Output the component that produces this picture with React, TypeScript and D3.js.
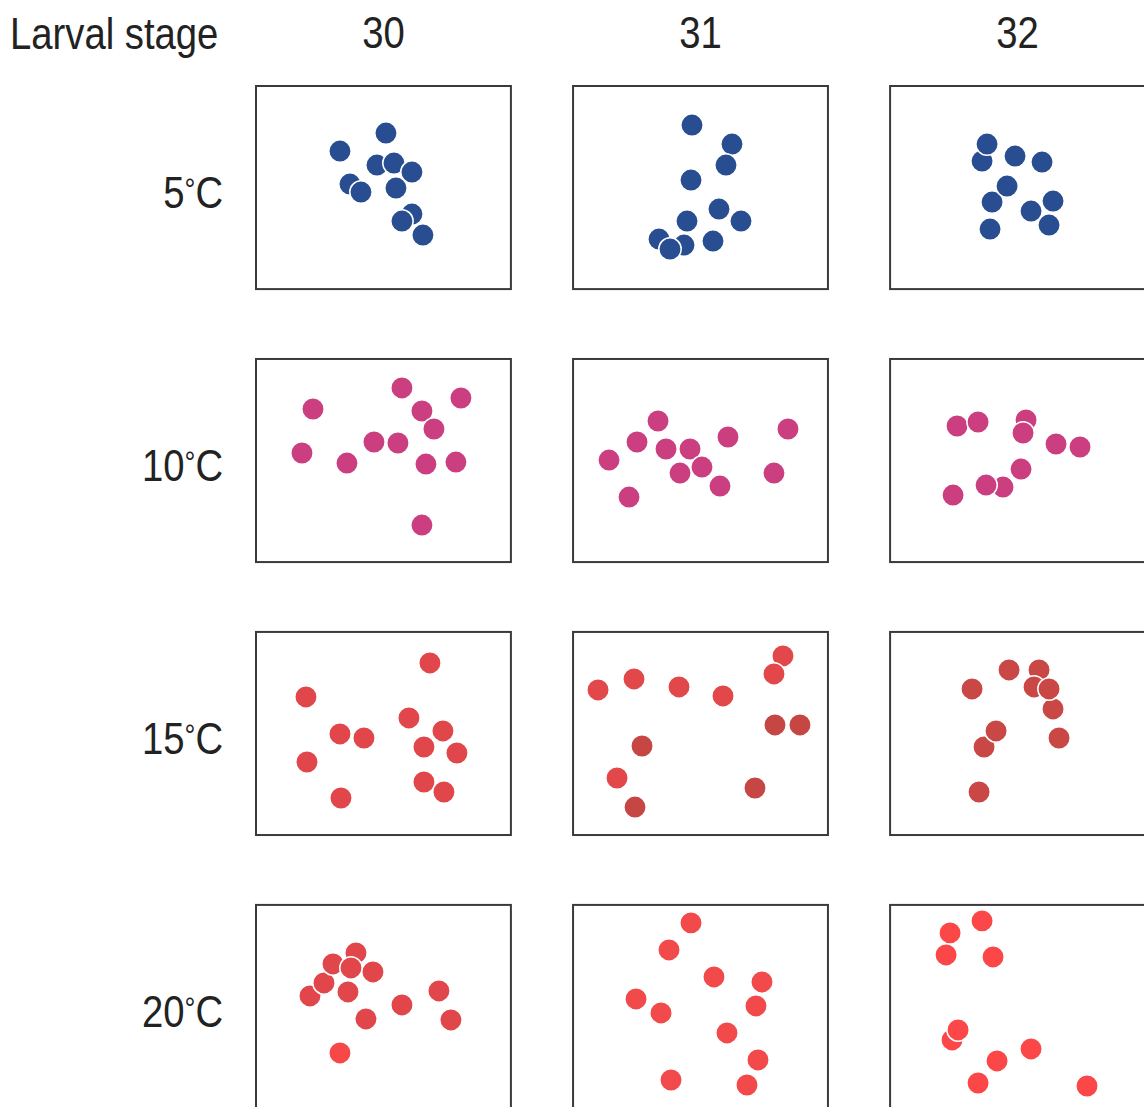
import React, { useEffect, useRef } from 'react';
import * as d3 from 'd3';

// larval stages (columns) and temperatures (rows)
const stages = ['30', '31', '32'];
const temps = ['5', '10', '15', '20'];

// dot positions inside each panel, panel units: x 0..255, y 0..203
// third value = colour shade (0 main, 1 dark, 2 bright)
type Dot = [number, number, number];

const dots5_30: Dot[] = [
  [130, 47, 0], [84, 65, 0], [121, 79, 0], [138, 77, 0], [156, 86, 0], [94, 98, 0],
  [105, 106, 0], [140, 102, 0], [156, 128, 0], [146, 135, 0], [167, 149, 0]
];
const dots5_31: Dot[] = [
  [119, 39, 0], [159, 58, 0], [153, 79, 0], [118, 94, 0], [146, 123, 0], [168, 135, 0],
  [114, 135, 0], [86, 153, 0], [111, 159, 0], [97, 163, 0], [140, 155, 0]
];
const dots5_32: Dot[] = [
  [92, 75, 0], [97, 58, 0], [125, 70, 0], [152, 76, 0], [102, 116, 0], [117, 100, 0],
  [163, 115, 0], [141, 125, 0], [159, 139, 0], [100, 143, 0]
];
const dots10_30: Dot[] = [
  [57, 50, 0], [146, 29, 0], [205, 39, 0], [166, 52, 0], [178, 70, 0], [46, 94, 0],
  [91, 104, 0], [118, 83, 0], [142, 84, 0], [170, 105, 0], [200, 103, 0], [166, 166, 0]
];
const dots10_31: Dot[] = [
  [85, 62, 0], [64, 83, 0], [36, 101, 0], [93, 90, 0], [117, 90, 0], [155, 78, 0],
  [215, 70, 0], [129, 108, 0], [107, 114, 0], [147, 127, 0], [56, 138, 0], [201, 114, 0]
];
const dots10_32: Dot[] = [
  [67, 67, 0], [88, 63, 0], [136, 61, 0], [133, 74, 0], [166, 85, 0], [190, 88, 0],
  [131, 110, 0], [113, 128, 0], [96, 126, 0], [63, 136, 0]
];
const dots15_30: Dot[] = [
  [174, 31, 0], [50, 65, 0], [84, 102, 0], [108, 106, 0], [153, 86, 0], [187, 99, 0],
  [168, 115, 0], [201, 121, 0], [51, 130, 0], [85, 166, 0], [168, 150, 0], [188, 160, 0]
];
const dots15_31: Dot[] = [
  [210, 24, 0], [201, 42, 0], [25, 58, 0], [61, 47, 0], [106, 55, 0], [150, 64, 0],
  [44, 146, 0], [202, 93, 1], [227, 93, 1], [69, 114, 1], [182, 156, 1], [62, 175, 1]
];
const dots15_32: Dot[] = [
  [119, 38, 1], [149, 38, 1], [82, 57, 1], [144, 55, 1], [163, 77, 1], [159, 57, 1],
  [94, 115, 1], [106, 99, 1], [169, 106, 1], [89, 160, 1]
];
const dots20_30: Dot[] = [
  [54, 91, 0], [68, 78, 0], [77, 59, 0], [100, 48, 0], [95, 63, 0], [117, 67, 0],
  [92, 87, 0], [110, 114, 0], [146, 100, 0], [183, 86, 0], [195, 115, 0], [84, 148, 2]
];
const dots20_31: Dot[] = [
  [118, 18, 0], [96, 45, 0], [141, 72, 0], [189, 77, 0], [63, 94, 0], [88, 108, 0],
  [183, 101, 0], [154, 128, 0], [185, 155, 0], [98, 175, 0], [174, 180, 0]
];
const dots20_32: Dot[] = [
  [62, 135, 0], [68, 125, 0], [60, 28, 0], [92, 16, 0], [56, 50, 0], [103, 52, 0],
  [141, 144, 0], [107, 156, 0], [88, 178, 0], [197, 181, 0]
];

const panelDots: Dot[][][] = [
  [dots5_30, dots5_31, dots5_32],
  [dots10_30, dots10_31, dots10_32],
  [dots15_30, dots15_31, dots15_32],
  [dots20_30, dots20_31, dots20_32]
];

// colours per temperature row and column: [main, dark, bright]
const rowColors: string[][][] = [
  [['#284d91', '#284d91', '#284d91'], ['#284d91', '#284d91', '#284d91'], ['#284d91', '#284d91', '#284d91']],
  [['#cb3f80', '#cb3f80', '#cb3f80'], ['#cb3f80', '#cb3f80', '#cb3f80'], ['#cb3f80', '#cb3f80', '#cb3f80']],
  [['#e0464a', '#c84644', '#e0464a'], ['#e2474a', '#c64644', '#e2474a'], ['#c94745', '#c94745', '#c94745']],
  [['#e0464a', '#e0464a', '#f74848'], ['#f24a4b', '#f24a4b', '#f24a4b'], ['#fb4747', '#fb4747', '#fb4747']]
];

const App = () => {
  const chartRef = useRef<SVGSVGElement>(null);

  useEffect(() => {
    drawChart();
  }, []);

  const drawChart = () => {
    const width = 1144;
    const height = 1107;
    const svg = d3.select(chartRef.current);
    svg.selectAll('*').remove();
    svg.attr('width', width).attr('height', height);

    // no narrow font installed, so squeeze Liberation Sans horizontally
    const font = '"Liberation Sans", Arial, sans-serif';
    const squeeze = 0.85;
    const fontSize = 45;

    // panel grid
    const colX = d3.scaleBand().domain(stages).range([256, 1145]).paddingInner(0.196);
    const rowY = d3.scaleBand().domain(temps).range([86, 1108]).paddingInner(0.256);
    const boxW = colX.bandwidth();
    const boxH = rowY.bandwidth();

    const label = (g: any, x: number, y: number, anchor: string, txt: string) =>
      g.append('text')
        .attr('transform', `translate(${x},${y}) scale(${squeeze},1)`)
        .attr('text-anchor', anchor)
        .attr('font-family', font)
        .attr('font-size', fontSize)
        .attr('fill', '#222')
        .text(txt);

    // header
    label(svg, 10, 49, 'start', 'Larval stage');
    stages.forEach(s => label(svg, (colX(s) as number) + boxW / 2, 48, 'middle', s));

    // row labels, degree sign set small and raised
    temps.forEach(t => {
      const txt = label(svg, 223, (rowY(t) as number) + 122, 'end', '');
      txt.append('tspan').text(t);
      txt.append('tspan').attr('font-size', 32).attr('dy', -8).text('°');
      txt.append('tspan').attr('dy', 8).text('C');
    });

    temps.forEach((t, ri) => {
      stages.forEach((s, ci) => {
        const x0 = colX(s) as number;
        const y0 = rowY(t) as number;
        const x = d3.scaleLinear().domain([0, 255]).range([x0, x0 + boxW]);
        const y = d3.scaleLinear().domain([0, 203]).range([y0, y0 + boxH]);
        const g = svg.append('g');

        g.append('rect')
          .attr('x', x0).attr('y', y0)
          .attr('width', boxW).attr('height', boxH)
          .attr('fill', 'white')
          .attr('stroke', '#3a3a3a')
          .attr('stroke-width', 2);

        g.selectAll('circle')
          .data(panelDots[ri][ci])
          .join('circle')
          .attr('cx', d => x(d[0]))
          .attr('cy', d => y(d[1]))
          .attr('r', 11.2)
          .attr('fill', d => rowColors[ri][ci][d[2]])
          .attr('stroke', 'white')
          .attr('stroke-width', 1.5);
      });
    });
  };

  return <svg ref={chartRef} style={{ position: 'absolute', left: 0, top: 0, background: 'white' }}></svg>;
};

export default App;
